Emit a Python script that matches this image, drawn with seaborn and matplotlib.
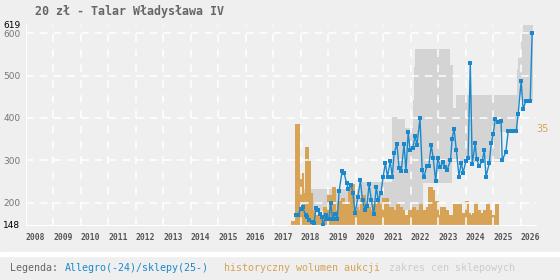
import numpy as np
import pandas as pd
import matplotlib
matplotlib.use('Agg')
import matplotlib.pyplot as plt
import seaborn as sns

# -------------------------------------------------------------
# DATA
# -------------------------------------------------------------
title = '20 zł - Talar Władysława IV'

# Allegro / shop price line (decimal year, PLN)
price_years = [2017.82, 2017.90, 2017.99, 2018.06, 2018.17, 2018.23, 2018.30, 2018.41, 2018.48, 2018.55,
               2018.61, 2018.69, 2018.76, 2018.81, 2018.90, 2018.96, 2019.02, 2019.08, 2019.15, 2019.25,
               2019.32, 2019.39, 2019.50, 2019.57, 2019.66, 2019.73, 2019.83, 2019.89, 2019.97, 2020.07,
               2020.16, 2020.24, 2020.33, 2020.40, 2020.48, 2020.56, 2020.65, 2020.74, 2020.81, 2020.91,
               2020.99, 2021.07, 2021.15, 2021.25, 2021.32, 2021.39, 2021.49, 2021.57, 2021.65, 2021.75,
               2021.82, 2021.90, 2021.97, 2022.07, 2022.15, 2022.22, 2022.33, 2022.41, 2022.47, 2022.58,
               2022.65, 2022.74, 2022.81, 2022.90, 2022.98, 2023.07, 2023.17, 2023.25, 2023.32, 2023.44,
               2023.50, 2023.57, 2023.65, 2023.75, 2023.83, 2023.90, 2024.00, 2024.08, 2024.16, 2024.23,
               2024.34, 2024.39, 2024.48, 2024.59, 2024.67, 2024.73, 2024.85, 2024.92, 2024.99, 2025.07,
               2025.17, 2025.28, 2025.32, 2025.45, 2025.54, 2025.61, 2025.68, 2025.76, 2025.83, 2025.90,
               2026.01, 2026.08, 2026.18, 2026.26, 2026.34, 2026.41]
price_values = [171, 171, 186, 191, 171, 168, 160, 154, 152, 189,
                183, 174, 166, 148, 171, 161, 162, 200, 162, 175,
                162, 228, 276, 270, 247, 232, 242, 223, 176, 213,
                253, 206, 183, 193, 244, 207, 173, 238, 207, 223,
                262, 293, 262, 299, 260, 317, 339, 282, 276, 338,
                275, 366, 325, 329, 358, 336, 399, 278, 260, 287,
                287, 336, 306, 252, 305, 284, 296, 284, 278, 301,
                351, 375, 325, 262, 295, 271, 299, 305, 529, 292,
                340, 303, 287, 298, 324, 262, 293, 340, 362, 397,
                390, 393, 301, 319, 369, 369, 369, 369, 369, 409,
                487, 421, 440, 440, 440, 599]

# shop price range (step starts)
band_years = [2017.90, 2020.15, 2021.30, 2021.78, 2022.06, 2022.10, 2022.15, 2022.45, 2023.44, 2023.48,
              2023.54, 2023.64, 2025.24, 2025.87, 2025.90, 2026.02, 2026.08, 2026.45]
band_low = [180, 180, 183, 183, 183, 183, 183, 247, 247, 297,
            297, 297, 367, 367, 440, 440, 440, 440]
band_high = [233, 250, 402, 376, 442, 520, 562, 562, 525, 525,
             423, 454, 454, 515, 541, 602, 619, 619]

# monthly auction volume, starting Sep 2017
volume_start = '2017-09'
volume = [1, 0, 35, 6, 18, 11, 27, 22, 11, 5,
          2, 3, 2, 2, 6, 3, 10, 10, 13, 5,
          7, 8, 9, 7, 4, 12, 14, 5, 6, 5,
          9, 10, 5, 6, 5, 5, 8, 9, 7, 3,
          9, 9, 6, 6, 3, 5, 7, 6, 5, 3,
          3, 5, 5, 6, 5, 5, 7, 5, 0, 6,
          13, 12, 6, 8, 3, 6, 6, 5, 3, 3,
          3, 7, 6, 7, 4, 3, 8, 4, 3, 4,
          7, 5, 3, 4, 5, 7, 5, 3, 3, 7]
volume_label = '35'

year_ticks = list(range(2008, 2027))
price_ticks = [148, 200, 300, 400, 500, 600, 619]
grid_levels = [200, 300, 400, 500, 600]

legend_parts = ['Legenda:', 'Allegro(-24)/sklepy(25-)', 'historyczny wolumen aukcji', 'zakres cen sklepowych']

# -------------------------------------------------------------
# STYLE
# -------------------------------------------------------------
BG = '#efefef'
BLUE = '#1a88cc'
ORANGE = '#d6a357'
BAND = '#d4d4d4'
GREY_TXT = '#666666'

sns.set_style('white')
plt.rcParams['font.family'] = ['DejaVu Sans']

months = pd.period_range(volume_start, periods=len(volume), freq='M')
month_x = np.asarray(months.year + (months.month - 1) / 12.0, dtype=float)

fig = plt.figure(figsize=(5.6, 2.8), dpi=100, facecolor=BG)
ax_band = fig.add_axes([26 / 560, 1 - 225 / 280, 510 / 560, 200 / 280])
ax_band.set_facecolor(BG)
ax_bar = ax_band.twinx()
ax_top = ax_band.twinx()

# shop price range
ax_band.fill_between(band_years, band_low, band_high, step='post', color=BAND, lw=0, antialiased=False)

# auction volume bars
ax_bar.bar(month_x, volume, width=1 / 12, align='edge', color=ORANGE,
           edgecolor=ORANGE, lw=0.3, antialiased=False)
ax_bar.set_ylim(0, 70)
ax_bar.text(2026.55, 33.6, volume_label, color=ORANGE, fontsize=7, va='center', ha='left', clip_on=False)

# white dashed grid, above the fills
for lvl in grid_levels:
    ax_top.axhline(lvl, color='white', lw=1.1, ls=(0, (5, 4)), zorder=1)
for yr in year_ticks:
    ax_top.axvline(yr, color='white', lw=1.1, ls=(0, (5, 5)), zorder=1)

# price line
sns.lineplot(x=price_years, y=price_values, ax=ax_top, color=BLUE, marker='s',
             markersize=3.0, markeredgewidth=0, linewidth=1.0, sort=False, zorder=3)

for a in (ax_band, ax_bar, ax_top):
    a.set_xlim(2008, 2026.55)
    for s in a.spines.values():
        s.set_visible(False)
ax_band.set_ylim(148, 619)
ax_top.set_ylim(148, 619)

ax_top.spines['left'].set_visible(True)
ax_top.spines['bottom'].set_visible(True)
ax_top.spines['left'].set_color('white')
ax_top.spines['bottom'].set_color('white')

ax_band.set_yticks([])
ax_bar.set_yticks([])
ax_top.yaxis.tick_left()
ax_top.set_yticks(price_ticks)
ax_top.set_yticklabels([str(t) for t in price_ticks])
ax_top.tick_params(axis='y', length=0, pad=4, labelsize=6.5)
for lab, t in zip(ax_top.get_yticklabels(), price_ticks):
    lab.set_color('black' if t in (148, 619) else '#777777')

ax_band.set_xticks(year_ticks)
ax_band.set_xticklabels([str(y) for y in year_ticks])
ax_band.tick_params(axis='x', length=0, pad=6, labelsize=5.8, labelcolor='#555555')
for lab in ax_band.get_xticklabels():
    lab.set_ha('left')
    lab.set_family('DejaVu Sans Mono')
    lab.set_weight('bold')

# title
fig.text(35 / 560, 1 - 12 / 280, title, ha='left', va='center', fontsize=8.4,
         family='DejaVu Sans Mono', weight='bold', color=GREY_TXT)

# separator strip and legend line
fig.patches.append(plt.Rectangle((0, 1 - 256 / 280), 1, 4 / 280, transform=fig.transFigure,
                                 color='white', zorder=0))
legend_x = [10, 65, 224, 389]
legend_col = [GREY_TXT, BLUE, ORANGE, '#cccccc']
for txt, px, col in zip(legend_parts, legend_x, legend_col):
    fig.text(px / 560, 1 - 268 / 280, txt, ha='left', va='center', fontsize=7.2,
             family='DejaVu Sans Mono', color=col)

fig.savefig('out.png', dpi=100, facecolor=BG)
